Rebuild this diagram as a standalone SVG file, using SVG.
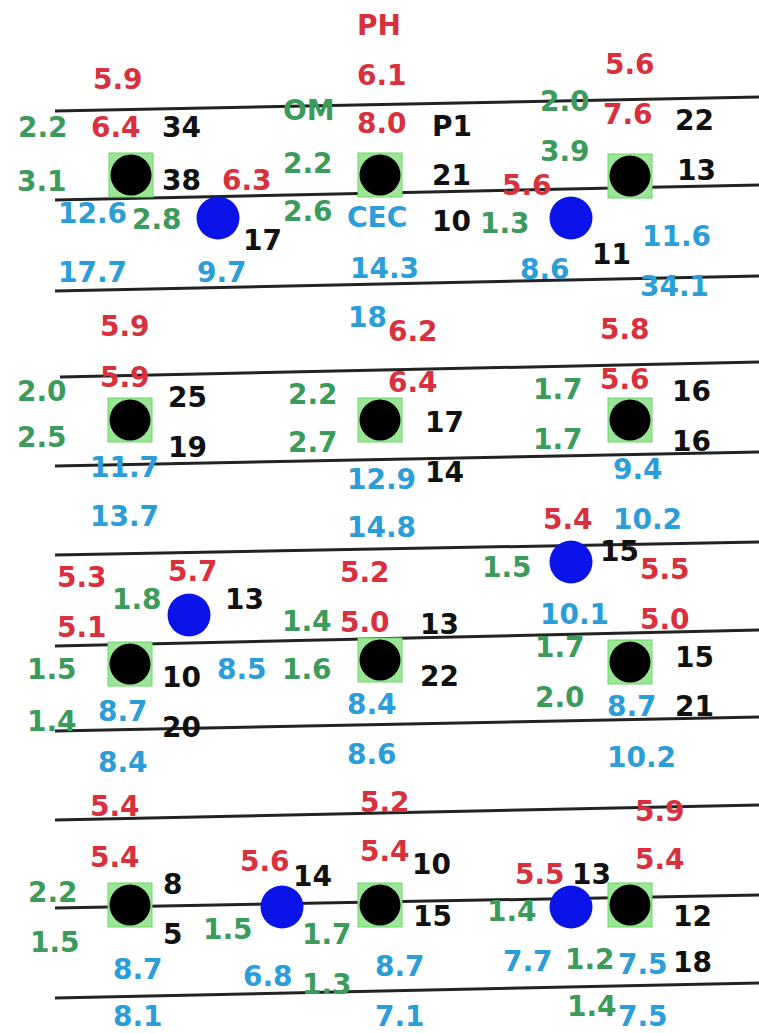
<svg xmlns="http://www.w3.org/2000/svg" width="759" height="1033" viewBox="0 0 759 1033">
<style>
text{font-family:"DejaVu Sans",Verdana,sans-serif;font-weight:bold;font-size:28px}
.r{fill:#d8313d}.g{fill:#3b9b5a}.b{fill:#2b9dd8}.k{fill:#111}
.ln{stroke:#222;stroke-width:3;fill:none}
.sq{fill:#9be596;stroke:#6ad866;stroke-width:1}
.dot{fill:#000}
.bc{fill:#0a14e8}
</style>
<defs>
<g id="pt"><rect class="sq" x="-22" y="-22" width="44" height="44"/><circle class="dot" r="20.5"/></g>
<circle id="bp" class="bc" r="21.5"/>
</defs>
<rect width="759" height="1033" fill="#fff"/>
<g id="lines">
<line class="ln" x1="55" y1="111" x2="759" y2="97"/>
<line class="ln" x1="55" y1="200" x2="759" y2="185"/>
<line class="ln" x1="55" y1="291" x2="759" y2="276"/>
<line class="ln" x1="60" y1="377" x2="759" y2="362"/>
<line class="ln" x1="55" y1="466" x2="759" y2="452"/>
<line class="ln" x1="55" y1="555" x2="759" y2="542"/>
<line class="ln" x1="55" y1="646" x2="759" y2="630"/>
<line class="ln" x1="55" y1="731" x2="759" y2="717"/>
<line class="ln" x1="55" y1="820" x2="759" y2="805"/>
<line class="ln" x1="55" y1="908" x2="759" y2="895"/>
<line class="ln" x1="55" y1="998" x2="759" y2="983"/>
</g>
<g id="sites">
<g id="s1"><use href="#pt" x="131" y="175"/></g>
<g id="s2"><use href="#pt" x="380" y="175"/></g>
<g id="s3"><use href="#pt" x="630" y="176"/></g>
<g id="s4"><use href="#pt" x="130" y="420"/></g>
<g id="s5"><use href="#pt" x="380" y="420"/></g>
<g id="s6"><use href="#pt" x="630" y="420"/></g>
<g id="s7"><use href="#pt" x="130" y="664"/></g>
<g id="s8"><use href="#pt" x="380" y="660"/></g>
<g id="s9"><use href="#pt" x="630" y="662"/></g>
<g id="s10"><use href="#pt" x="130" y="905"/></g>
<g id="s11"><use href="#pt" x="380" y="905"/></g>
<g id="s12"><use href="#pt" x="630" y="905"/></g>
<g id="b1"><use href="#bp" x="218" y="218"/></g>
<g id="b2"><use href="#bp" x="571" y="218"/></g>
<g id="b3"><use href="#bp" x="189" y="615"/></g>
<g id="b4"><use href="#bp" x="571" y="562"/></g>
<g id="b5"><use href="#bp" x="282" y="907"/></g>
<g id="b6"><use href="#bp" x="571" y="907"/></g>
</g>
<g id="labels">
<text class="r" x="357" y="35">PH</text>
<text class="r" x="357" y="85">6.1</text>
<text class="r" x="357" y="133">8.0</text>
<text class="g" x="283" y="120">OM</text>
<text class="k" x="432" y="136">P1</text>
<text class="k" x="432" y="185">21</text>
<text class="g" x="283" y="173">2.2</text>
<text class="g" x="283" y="221">2.6</text>
<text class="b" x="347" y="227">CEC</text>
<text class="k" x="432" y="231">10</text>
<text class="b" x="350" y="278">14.3</text>

<text class="r" x="93" y="89">5.9</text>
<text class="g" x="18" y="137">2.2</text>
<text class="r" x="91" y="137">6.4</text>
<text class="k" x="162" y="137">34</text>
<text class="g" x="17" y="191">3.1</text>
<text class="k" x="162" y="190">38</text>
<text class="r" x="222" y="190">6.3</text>
<text class="b" x="58" y="223">12.6</text>
<text class="g" x="132" y="229">2.8</text>
<text class="k" x="243" y="250">17</text>
<text class="b" x="58" y="282">17.7</text>
<text class="b" x="197" y="282">9.7</text>

<text class="r" x="605" y="74">5.6</text>
<text class="g" x="540" y="111">2.0</text>
<text class="r" x="603" y="124">7.6</text>
<text class="k" x="675" y="130">22</text>
<text class="g" x="540" y="161">3.9</text>
<text class="k" x="677" y="180">13</text>
<text class="r" x="502" y="195">5.6</text>
<text class="g" x="480" y="233">1.3</text>
<text class="b" x="642" y="246">11.6</text>
<text class="k" x="592" y="264">11</text>
<text class="b" x="520" y="279">8.6</text>
<text class="b" x="640" y="296">34.1</text>

<text class="r" x="100" y="336">5.9</text>
<text class="r" x="100" y="387">5.9</text>
<text class="g" x="17" y="401">2.0</text>
<text class="k" x="168" y="407">25</text>
<text class="g" x="17" y="447">2.5</text>
<text class="k" x="168" y="457">19</text>
<text class="b" x="90" y="477">11.7</text>
<text class="b" x="90" y="526">13.7</text>

<text class="b" x="348" y="327">18</text>
<text class="r" x="388" y="341">6.2</text>
<text class="r" x="388" y="392">6.4</text>
<text class="g" x="288" y="404">2.2</text>
<text class="g" x="288" y="452">2.7</text>
<text class="k" x="425" y="432">17</text>
<text class="b" x="347" y="489">12.9</text>
<text class="k" x="425" y="482">14</text>
<text class="b" x="347" y="537">14.8</text>

<text class="r" x="600" y="339">5.8</text>
<text class="g" x="533" y="399">1.7</text>
<text class="r" x="600" y="389">5.6</text>
<text class="k" x="672" y="401">16</text>
<text class="g" x="533" y="449">1.7</text>
<text class="k" x="672" y="451">16</text>
<text class="b" x="613" y="479">9.4</text>
<text class="r" x="543" y="529">5.4</text>
<text class="b" x="613" y="529">10.2</text>

<text class="r" x="57" y="587">5.3</text>
<text class="r" x="168" y="581">5.7</text>
<text class="g" x="112" y="609">1.8</text>
<text class="k" x="225" y="609">13</text>
<text class="r" x="57" y="637">5.1</text>
<text class="g" x="27" y="679">1.5</text>
<text class="k" x="162" y="687">10</text>
<text class="b" x="217" y="679">8.5</text>
<text class="g" x="27" y="731">1.4</text>
<text class="b" x="98" y="721">8.7</text>
<text class="k" x="162" y="737">20</text>
<text class="b" x="98" y="772">8.4</text>

<text class="r" x="340" y="582">5.2</text>
<text class="g" x="282" y="631">1.4</text>
<text class="r" x="340" y="632">5.0</text>
<text class="k" x="420" y="634">13</text>
<text class="g" x="282" y="679">1.6</text>
<text class="k" x="420" y="686">22</text>
<text class="b" x="347" y="714">8.4</text>
<text class="b" x="347" y="764">8.6</text>

<text class="g" x="482" y="577">1.5</text>
<text class="k" x="600" y="561">15</text>
<text class="r" x="640" y="579">5.5</text>
<text class="b" x="540" y="624">10.1</text>
<text class="r" x="640" y="629">5.0</text>
<text class="g" x="535" y="657">1.7</text>
<text class="k" x="675" y="667">15</text>
<text class="g" x="535" y="707">2.0</text>
<text class="b" x="607" y="716">8.7</text>
<text class="k" x="675" y="716">21</text>
<text class="b" x="607" y="767">10.2</text>

<text class="r" x="90" y="816">5.4</text>
<text class="r" x="90" y="867">5.4</text>
<text class="g" x="28" y="902">2.2</text>
<text class="k" x="163" y="894">8</text>
<text class="g" x="30" y="952">1.5</text>
<text class="k" x="163" y="944">5</text>
<text class="b" x="113" y="979">8.7</text>
<text class="b" x="113" y="1026">8.1</text>
<text class="r" x="240" y="871">5.6</text>
<text class="k" x="293" y="886">14</text>
<text class="g" x="203" y="939">1.5</text>
<text class="g" x="302" y="944">1.7</text>
<text class="b" x="243" y="986">6.8</text>
<text class="g" x="302" y="994">1.3</text>

<text class="r" x="360" y="812">5.2</text>
<text class="r" x="360" y="861">5.4</text>
<text class="k" x="412" y="874">10</text>
<text class="k" x="413" y="926">15</text>
<text class="b" x="375" y="976">8.7</text>
<text class="b" x="375" y="1026">7.1</text>

<text class="r" x="635" y="821">5.9</text>
<text class="r" x="635" y="869">5.4</text>
<text class="r" x="515" y="884">5.5</text>
<text class="k" x="572" y="884">13</text>
<text class="g" x="487" y="921">1.4</text>
<text class="k" x="673" y="926">12</text>
<text class="b" x="503" y="971">7.7</text>
<text class="g" x="565" y="969">1.2</text>
<text class="b" x="618" y="974">7.5</text>
<text class="k" x="673" y="972">18</text>
<text class="g" x="567" y="1016">1.4</text>
<text class="b" x="618" y="1026">7.5</text>
</g>
</svg>
